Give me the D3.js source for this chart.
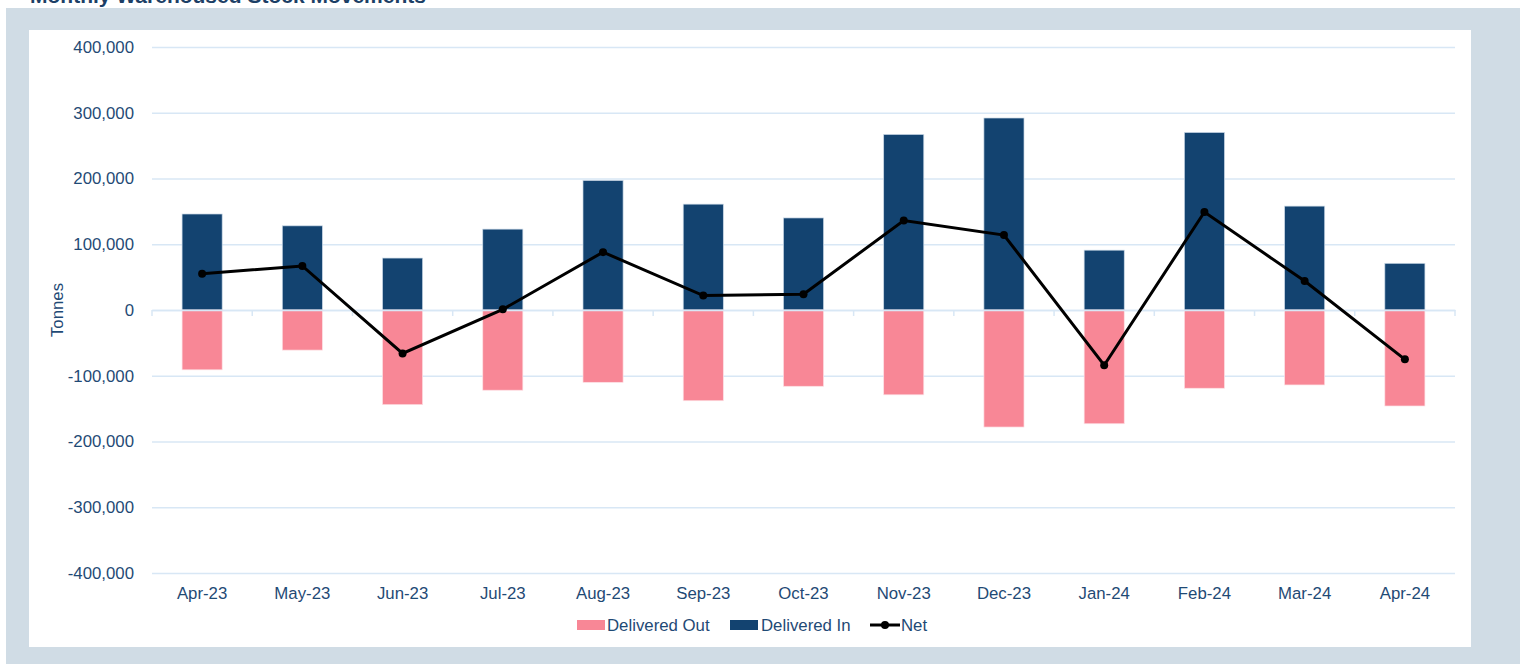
<!DOCTYPE html>
<html>
<head>
<meta charset="utf-8">
<script src="https://cdn.jsdelivr.net/npm/d3@7"></script>
<style>
  body { margin: 0; background: #fff; }
  svg text { font-family: "Liberation Sans", Arial, sans-serif; }
</style>
</head>
<body>
<div id="chart"></div>
<script>
const months = ["Apr-23", "May-23", "Jun-23", "Jul-23", "Aug-23", "Sep-23", "Oct-23",
                "Nov-23", "Dec-23", "Jan-24", "Feb-24", "Mar-24", "Apr-24"];
const deliveredIn = [146000, 128000, 79000, 123000, 197000, 161000, 140000,
                     267000, 292000, 91000, 270000, 158000, 71000];
const deliveredOut = [-91000, -61000, -144000, -122000, -110000, -138000, -116000,
                      -129000, -178000, -173000, -119000, -114000, -146000];
const net = [55000, 67000, -66000, 1000, 88000, 22000, 24000,
             136000, 114000, -84000, 149000, 44000, -75000];
const yTicks = [-400000, -300000, -200000, -100000, 0, 100000, 200000, 300000, 400000];

const W = 1520, H = 664;
const textColor = "#1f4a75";
const navy = "#134370", pink = "#f88796", grid = "#d8e7f5";
const fs = 16.8;

const svg = d3.select("#chart").append("svg")
    .attr("width", W)
    .attr("height", H);

// outer frame + white panel
svg.append("rect").attr("x", 6).attr("y", 8).attr("width", W - 6).attr("height", H - 8)
    .attr("fill", "#d0dce5");
svg.append("rect").attr("x", 29).attr("y", 30).attr("width", 1442).attr("height", 617)
    .attr("fill", "#fff");

// title, mostly cut off at top like the source
svg.append("text")
    .attr("x", 30).attr("y", 3)
    .attr("font-size", 21).attr("font-weight", "bold")
    .attr("fill", "#1c3f66")
    .text("Monthly Warehoused Stock Movements");

const margin = {left: 152, right: 65, top: 47, bottom: 91};
const x = d3.scaleBand()
    .domain(months)
    .range([margin.left, W - margin.right])
    .paddingInner(0.6).paddingOuter(0.3);
const xc = d3.scaleBand().domain(months).range([margin.left, W - margin.right]);
const y = d3.scaleLinear()
    .domain([-400000, 400000])
    .range([H - margin.bottom, margin.top]);

// gridlines
svg.append("g").selectAll("line")
    .data(yTicks)
    .join("line")
    .attr("x1", margin.left).attr("x2", W - margin.right)
    .attr("y1", d => y(d) + 0.5).attr("y2", d => y(d) + 0.5)
    .attr("stroke", grid).attr("stroke-width", 1.3);

// y axis labels
const yAxis = svg.append("g")
    .attr("transform", `translate(${margin.left - 15},0)`)
    .call(d3.axisLeft(y).tickValues(yTicks).tickSize(0)
        .tickFormat(d => d3.format(",")(d).replace("\u2212", "-")));
yAxis.select(".domain").remove();
yAxis.selectAll("text")
    .attr("font-size", fs).attr("fill", textColor)
    .attr("font-family", "Liberation Sans, Arial, sans-serif");

svg.append("text")
    .attr("transform", `translate(63,${y(0)}) rotate(-90)`)
    .attr("text-anchor", "middle")
    .attr("font-size", fs).attr("fill", textColor)
    .text("Tonnes");

// bars
svg.append("g").selectAll("rect")
    .data(months)
    .join("rect")
    .attr("x", d => x(d))
    .attr("width", x.bandwidth())
    .attr("y", (d, i) => y(deliveredIn[i]))
    .attr("height", (d, i) => y(0) - y(deliveredIn[i]))
    .attr("fill", navy).attr("stroke", "#c9d8e6").attr("stroke-width", 0.7);

svg.append("g").selectAll("rect")
    .data(months)
    .join("rect")
    .attr("x", d => x(d))
    .attr("width", x.bandwidth())
    .attr("y", y(0))
    .attr("height", (d, i) => y(deliveredOut[i]) - y(0))
    .attr("fill", pink).attr("stroke", "#fde0e4").attr("stroke-width", 0.7);

// zero axis with category tick marks
const xAxis = svg.append("g")
    .attr("transform", `translate(0,${y(0)})`)
    .call(d3.axisBottom(xc).tickSize(0).tickFormat(""));
xAxis.select(".domain").attr("stroke", grid).attr("stroke-width", 1.5);
svg.append("g").selectAll("line")
    .data(months.concat(["end"]))
    .join("line")
    .attr("x1", (d, i) => margin.left + i * xc.step())
    .attr("x2", (d, i) => margin.left + i * xc.step())
    .attr("y1", y(0)).attr("y2", y(0) + 6)
    .attr("stroke", grid).attr("stroke-width", 1.5);

// category labels
svg.append("g").selectAll("text")
    .data(months)
    .join("text")
    .attr("x", d => xc(d) + xc.bandwidth() / 2)
    .attr("y", y(-400000) + 26)
    .attr("text-anchor", "middle")
    .attr("font-size", fs).attr("fill", textColor)
    .text(d => d);

// net line
const line = d3.line()
    .x((d, i) => xc(months[i]) + xc.bandwidth() / 2)
    .y(d => y(d));
svg.append("path")
    .datum(net)
    .attr("d", line)
    .attr("fill", "none").attr("stroke", "#000").attr("stroke-width", 3);
svg.append("g").selectAll("circle")
    .data(net)
    .join("circle")
    .attr("cx", (d, i) => xc(months[i]) + xc.bandwidth() / 2)
    .attr("cy", d => y(d))
    .attr("r", 4).attr("fill", "#000");

// legend
const legY = 625;
const leg = svg.append("g");
leg.append("rect").attr("x", 577).attr("y", legY - 5).attr("width", 28).attr("height", 10).attr("fill", pink);
leg.append("text").attr("x", 607).attr("y", legY + 6).attr("font-size", fs).attr("fill", textColor).text("Delivered Out");
leg.append("rect").attr("x", 730).attr("y", legY - 5).attr("width", 28).attr("height", 10).attr("fill", navy);
leg.append("text").attr("x", 761).attr("y", legY + 6).attr("font-size", fs).attr("fill", textColor).text("Delivered In");
leg.append("line").attr("x1", 870).attr("x2", 900).attr("y1", legY).attr("y2", legY)
    .attr("stroke", "#000").attr("stroke-width", 3);
leg.append("circle").attr("cx", 885).attr("cy", legY).attr("r", 4).attr("fill", "#000");
leg.append("text").attr("x", 901).attr("y", legY + 6).attr("font-size", fs).attr("fill", textColor).text("Net");
</script>
</body>
</html>
